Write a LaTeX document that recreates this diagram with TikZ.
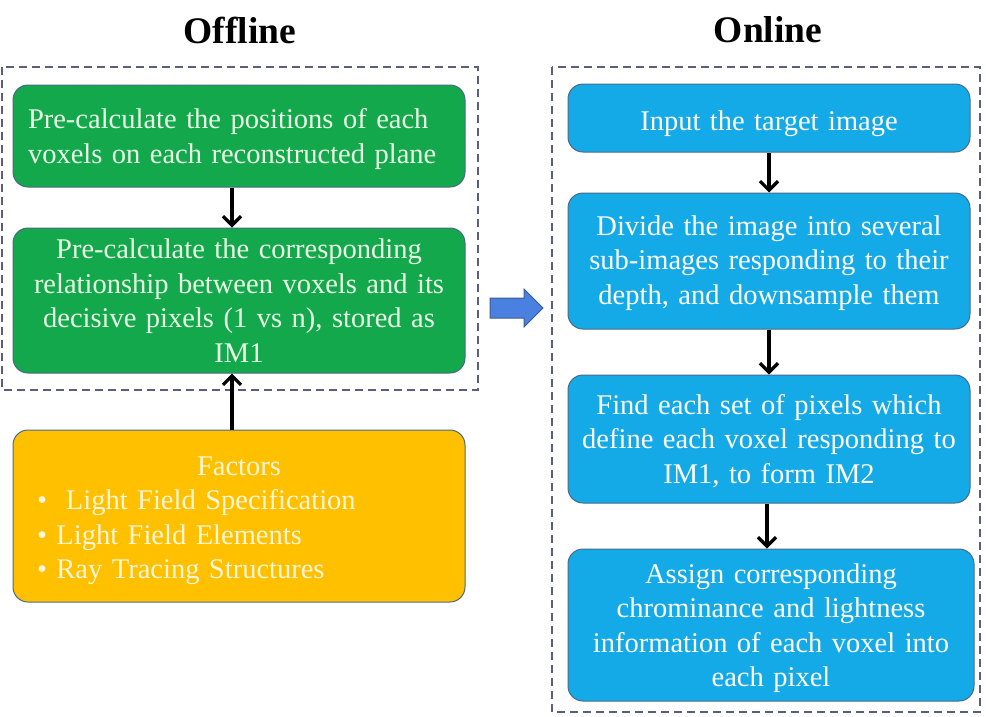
\documentclass[tikz,border=0pt]{standalone}
\usepackage{fontspec}
\setmainfont{Liberation Serif}
\usetikzlibrary{arrows.meta}
\definecolor{gfill}{HTML}{12A84B}
\definecolor{bfill}{HTML}{14AAE8}
\definecolor{yfill}{HTML}{FFC000}
\definecolor{edge}{HTML}{4A6A88}
\definecolor{dashc}{HTML}{5B5F7F}
\definecolor{gtext}{HTML}{EAFFE6}
\definecolor{ytext}{HTML}{FFF6D8}
\definecolor{arrfill}{HTML}{4A80E0}
\definecolor{arredge}{HTML}{3B5A9A}
\newcommand{\pushdown}[1]{\rule{0pt}{\dimexpr 20pt+2\dimexpr #1\relax\relax}}
\begin{document}
\begin{tikzpicture}[x=1pt,y=-1pt,
  box/.style={draw=edge, line width=1pt, rounded corners=15pt, inner sep=0pt,
    font=\fontsize{28.5}{34.6}\selectfont},
  greenbox/.style={box, fill=gfill, text=gtext},
  bluebox/.style={box, fill=bfill, text=white},
  yellowbox/.style={box, fill=yfill, text=ytext},
  frame/.style={draw=dashc, line width=2pt, dash pattern=on 8pt off 5pt},
  flow/.style={draw=black, line width=3.3pt, -{Straight Barb[length=9pt,width=18pt]}},
  title/.style={font=\fontsize{37.5}{40}\selectfont\bfseries, inner sep=0pt}
]
\useasboundingbox (0,0) rectangle (986,716);
% titles
\node[title] (toff) at (240,30) {Offline};
\node[title] (ton) at (768,30) {Online};
% frames
\draw[frame] (2,67) rectangle (478,390);
\draw[frame] (552,67) rectangle (980,712);
% left column
\node[greenbox, minimum width=452pt, minimum height=102pt, text width=422pt, align=left] (g1) at (239,136)
  {\pushdown{3pt}Pre-calculate the positions of each\\voxels on each reconstructed plane};
\node[greenbox, minimum width=452pt, minimum height=145pt, text width=446pt, align=center] (g2) at (239,300.5)
  {Pre-calculate the corresponding\\relationship between voxels and its\\decisive pixels (1 vs n), stored as\\IM1};
\node[yellowbox, minimum width=452pt, minimum height=172pt, text width=404pt, align=left] (y1) at (239,516)
  {\makebox[\linewidth][c]{\pushdown{4pt}Factors}\\
   \textbullet\ \ Light Field Specification\\
   \textbullet\ Light Field Elements\\
   \textbullet\ Ray Tracing Structures};
\draw[flow] ([xshift=-7pt]g1.south) -- ([xshift=-7pt]g2.north);
\draw[flow] ([xshift=-7pt]y1.north) -- ([xshift=-7pt]g2.south);
% middle arrow
\draw[draw=arredge, fill=arrfill, line width=1pt, line join=miter]
  (490,298) -- (524,298) -- (524,289) -- (543,308) -- (524,327) -- (524,318) -- (490,318) -- cycle;
% right column
\node[bluebox, minimum width=402pt, minimum height=68pt, text width=396pt, align=center] (b1) at (769,118)
  {\pushdown{6pt}Input the target image};
\node[bluebox, minimum width=402pt, minimum height=136pt, text width=396pt, align=center] (b2) at (769,261)
  {\pushdown{2pt}Divide the image into several\\sub-images responding to their\\depth, and downsample them};
\node[bluebox, minimum width=402pt, minimum height=128pt, text width=396pt, align=center] (b3) at (769,439)
  {\pushdown{2pt}Find each set of pixels which\\define each voxel responding to\\IM1, to form IM2};
\node[bluebox, minimum width=406pt, minimum height=152pt, text width=400pt, align=center] (b4) at (771,625)
  {\pushdown{3pt}Assign corresponding\\chrominance and lightness\\information of each voxel into\\each pixel};
\draw[flow] (b1.south) -- (b2.north);
\draw[flow] (b2.south) -- (b3.north);
\draw[flow] ([xshift=-2pt]b3.south) -- ([xshift=-2pt]b3.south |- b4.north);
\end{tikzpicture}
\end{document}
